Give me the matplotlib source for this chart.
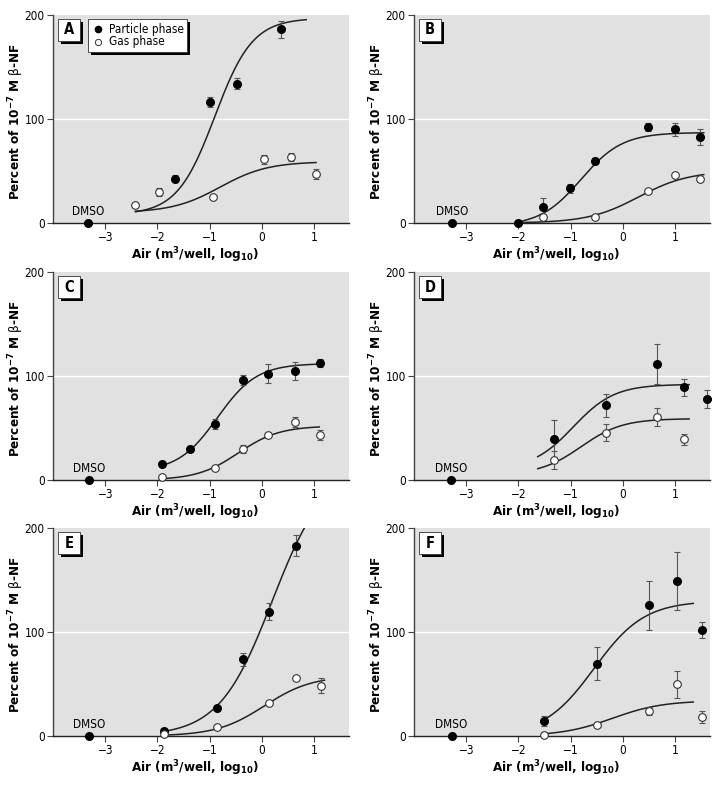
import numpy as np
import matplotlib
matplotlib.use("Agg")
import matplotlib.pyplot as plt
from matplotlib.patches import Rectangle
from matplotlib.lines import Line2D

# ---------------- data ----------------
panels = ["A", "B", "C", "D", "E", "F"]
dmso_x = [-3.32, -3.27, -3.31, -3.29, -3.31, -3.28]

part_x = [
    [-1.66, -1.00, -0.48, 0.36],
    [-2.00, -1.52, -1.02, -0.54, 0.48, 0.99, 1.47],
    [-1.91, -1.38, -0.90, -0.37, 0.12, 0.63, 1.12],
    [-1.32, -0.33, 0.66, 1.18, 1.61],
    [-1.88, -0.86, -0.36, 0.13, 0.65],
    [-1.51, -0.50, 0.50, 1.04, 1.51],
]
part_y = [
    [42.7, 116.4, 134.0, 186.3],
    [0.0, 15.0, 33.2, 59.6, 92.5, 90.0, 82.6],
    [15.6, 30.0, 53.9, 96.3, 102.4, 104.9, 112.3],
    [39.6, 71.9, 111.4, 89.0, 78.0],
    [4.5, 27.4, 73.6, 119.7, 182.8],
    [14.6, 69.4, 125.5, 149.0, 102.0],
]
part_err = [
    [3, 5, 5, 8],
    [0, 9, 4, 3, 4, 6, 8],
    [0, 0, 5, 5, 9, 9, 4],
    [18, 11, 19, 8, 9],
    [0, 0, 6, 8, 10],
    [5, 16, 24, 28, 8],
]

gas_x = [
    [-2.42, -1.96, -0.94, 0.04, 0.56, 1.04],
    [-1.52, -0.54, 0.48, 0.99, 1.47],
    [-1.91, -0.90, -0.37, 0.12, 0.63, 1.12],
    [-1.32, -0.33, 0.66, 1.18],
    [-1.88, -0.86, 0.13, 0.65, 1.13],
    [-1.51, -0.50, 0.50, 1.04, 1.51],
]
gas_y = [
    [17.2, 30.0, 25.2, 61.2, 63.5, 47.2],
    [5.7, 5.7, 31.0, 46.2, 42.0],
    [3.2, 11.2, 30.0, 43.7, 55.8, 43.0],
    [19.1, 45.6, 60.6, 39.0],
    [2.0, 9.0, 31.5, 56.0, 48.4],
    [1.3, 10.2, 24.2, 49.7, 18.5],
]
gas_err = [
    [0, 4, 0, 4, 4, 5],
    [0, 0, 0, 0, 0],
    [0, 0, 4, 0, 5, 5],
    [9, 8.5, 9, 5],
    [0, 0, 0, 0, 7],
    [0, 0, 4, 13, 6],
]

# fitted logistic curves: bottom, top, log EC50, hill slope, x range
part_fit = [
    (8, 197, -0.90, 1.20, -2.42, 0.85),
    (-3, 87, -0.80, 1.10, -2.00, 1.55),
    (8, 112, -0.85, 1.15, -1.91, 1.10),
    (10, 92, -0.95, 1.10, -1.63, 1.27),
    (0, 260, 0.20, 0.85, -1.88, 0.85),
    (0, 130, -0.55, 0.90, -1.51, 1.35),
]
gas_fit = [
    (10, 59, -0.80, 0.95, -2.42, 1.04),
    (0, 50, 0.30, 0.90, -2.00, 1.55),
    (0, 52, -0.45, 1.10, -1.91, 1.10),
    (5, 59, -0.80, 1.10, -1.63, 1.27),
    (0, 58, 0.05, 0.95, -1.88, 1.20),
    (0, 34, -0.20, 0.90, -1.51, 1.35),
]

x_ticks = [-3, -2, -1, 0, 1]
y_ticks = [0, 100, 200]
legend_labels = ["Particle phase", "Gas phase"]

# ---------------- fonts ----------------
plt.rcParams["font.family"] = ["DejaVu Sans"]
plt.rcParams["font.stretch"] = "condensed"
plt.rcParams["mathtext.fontset"] = "custom"
plt.rcParams["mathtext.rm"] = "DejaVu Sans:stretch=condensed"
plt.rcParams["mathtext.bf"] = "DejaVu Sans:weight=bold:stretch=condensed"
plt.rcParams["mathtext.it"] = "DejaVu Sans:style=italic:stretch=condensed"

W, H = 717, 787
fig = plt.figure(figsize=(W / 100, H / 100), dpi=100)

col_left = [53, 414]
row_bottom = [223, 480, 736]
ax_w, ax_h = 296, 208
BG = "#e1e1e1"


def logistic(x, b, t, x50, h):
    return b + (t - b) / (1 + 10 ** ((x50 - x) * h))


def shadow_box(ax, x0, y0, w, h, off=3):
    tr = ax.transAxes
    fx = lambda px: px / ax_w
    fy = lambda py: 1 - py / ax_h
    ax.add_patch(Rectangle((fx(x0 + off), fy(y0 + h + off)), fx(w), h / ax_h,
                           transform=tr, facecolor="black", edgecolor="none", zorder=10,
                           clip_on=False))
    ax.add_patch(Rectangle((fx(x0), fy(y0 + h)), fx(w), h / ax_h,
                           transform=tr, facecolor="white", edgecolor="#333333",
                           linewidth=0.6, zorder=11, clip_on=False))


for i, p in enumerate(panels):
    r, c = divmod(i, 2)
    ax = fig.add_axes([col_left[c] / W, 1 - row_bottom[r] / H, ax_w / W, ax_h / H])
    ax.set_facecolor(BG)
    ax.set_xlim(-4.0, 1.67)
    ax.set_ylim(0, 200)
    for s in ["top", "right"]:
        ax.spines[s].set_visible(False)
    ax.spines["left"].set_color("#444444")
    ax.spines["left"].set_linewidth(1.0)
    ax.spines["bottom"].set_color("#222222")
    ax.spines["bottom"].set_linewidth(1.0)
    ax.set_xticks(x_ticks)
    ax.set_yticks(y_ticks)
    ax.tick_params(axis="both", direction="out", length=4, width=0.8,
                   labelsize=8.5, color="#444444", pad=2)
    ax.axhline(100, color="white", linewidth=1.0, zorder=1)

    for fit in (part_fit[i], gas_fit[i]):
        b, t, x50, h, xa, xb = fit
        xs = np.linspace(xa, xb, 200)
        ax.plot(xs, logistic(xs, b, t, x50, h), color="#222222", linewidth=1.1, zorder=3)

    ax.errorbar(part_x[i], part_y[i], yerr=part_err[i], fmt="none", ecolor="#555555",
                elinewidth=0.8, capsize=2.5, capthick=0.8, zorder=4, clip_on=False)
    ax.errorbar(gas_x[i], gas_y[i], yerr=gas_err[i], fmt="none", ecolor="#555555",
                elinewidth=0.8, capsize=2.5, capthick=0.8, zorder=4, clip_on=False)

    ax.plot(part_x[i], part_y[i], "o", color="black", markersize=5.5, zorder=6, clip_on=False)
    ax.plot(gas_x[i], gas_y[i], "o", markerfacecolor="white", markeredgecolor="#333333",
            markeredgewidth=0.8, markersize=5.5, zorder=6, clip_on=False)
    ax.plot([dmso_x[i]], [0], "o", color="black", markersize=5.5, zorder=7, clip_on=False)
    ax.text(dmso_x[i], 5, "DMSO", ha="center", va="bottom", fontsize=8.5, zorder=7)

    ax.set_xlabel(r"Air (m$^{\mathbf{3}}$/well, log$_{\mathbf{10}}$)", fontsize=9.6,
                  fontweight="bold")
    ax.xaxis.set_label_coords(0.48, -36 / ax_h)
    ax.xaxis.label.set_va("baseline")
    ax.set_ylabel(r"Percent of 10$^{\mathbf{-7}}$ M $\mathrm{\beta}$-NF", fontsize=9.6,
                  fontweight="bold")
    ax.yaxis.set_label_coords(-37 / ax_w, 0.49)
    ax.yaxis.label.set_va("center")

    shadow_box(ax, 5, 4, 22, 22)
    ax.text((5 + 11) / ax_w, 1 - (4 + 11) / ax_h, p, transform=ax.transAxes,
            ha="center", va="center", fontsize=10.5, fontweight="bold", zorder=12)

    if i == 0:
        shadow_box(ax, 35, 4, 99, 33)
        ax.add_line(Line2D([45 / ax_w], [1 - 14.5 / ax_h], marker="o", color="black",
                           markersize=4.5, transform=ax.transAxes, zorder=12,
                           clip_on=False))
        ax.add_line(Line2D([45 / ax_w], [1 - 27 / ax_h], marker="o",
                           markerfacecolor="white", markeredgecolor="#333333",
                           markeredgewidth=0.7, markersize=4.5, transform=ax.transAxes,
                           zorder=12, clip_on=False))
        ax.text(56 / ax_w, 1 - 14.5 / ax_h, legend_labels[0], transform=ax.transAxes,
                ha="left", va="center", fontsize=8.5, zorder=12)
        ax.text(56 / ax_w, 1 - 27 / ax_h, legend_labels[1], transform=ax.transAxes,
                ha="left", va="center", fontsize=8.5, zorder=12)

fig.savefig("out.png", dpi=100)
